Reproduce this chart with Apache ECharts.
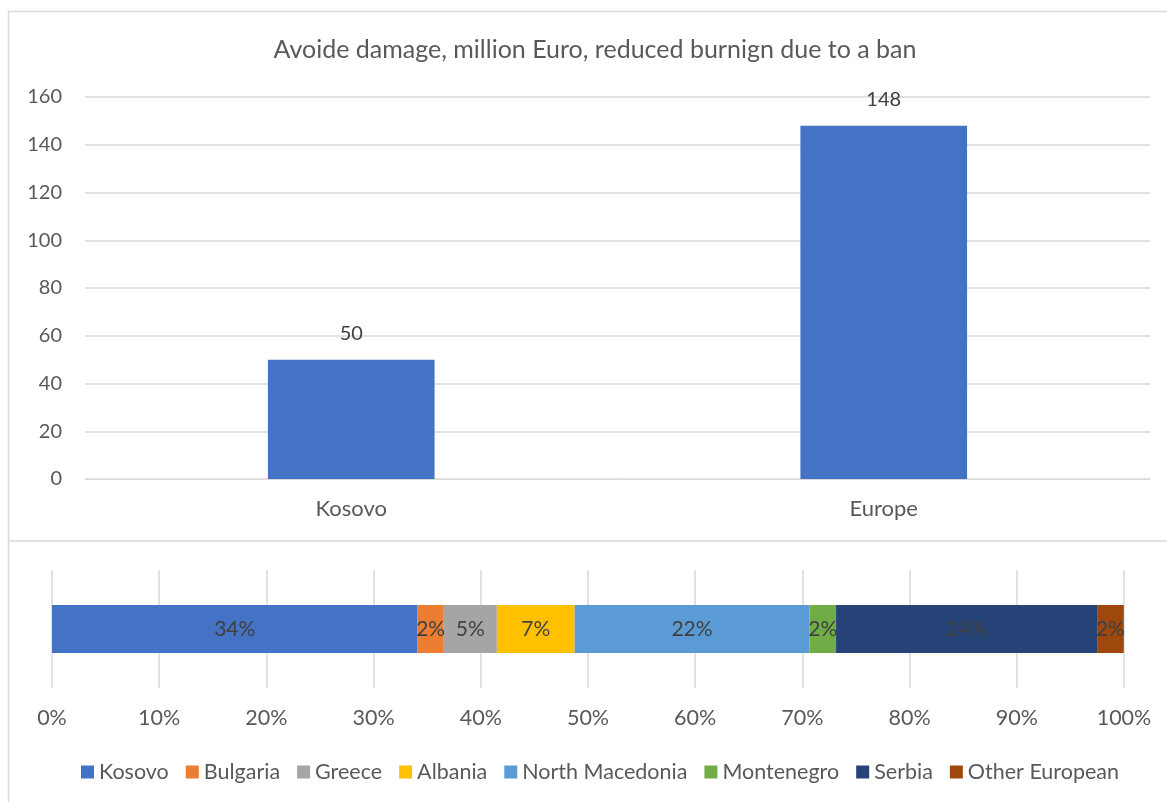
<!DOCTYPE html>
<html>
<head>
<meta charset="utf-8">
<script src="https://cdn.jsdelivr.net/npm/echarts@6/dist/echarts.min.js"></script>
<style>
  html, body { margin: 0; padding: 0; background: #fff; }
  #chart { width: 1167px; height: 802px; }
</style>
</head>
<body>
<div id="chart"></div>
<script>
// Avoided damage (million Euro)
const damageCategories = ['Kosovo', 'Europe'];
const damageValues = [50, 148];
const damageTicks = { min: 0, max: 160, interval: 20 };

// Share of avoided damage by country (%)
const shareCountries = ['Kosovo', 'Bulgaria', 'Greece', 'Albania', 'North Macedonia', 'Montenegro', 'Serbia', 'Other European'];
const shareValues = [34.1, 2.45, 4.95, 7.25, 21.9, 2.49, 24.35, 2.49];
const shareColors = ['#4472C4', '#ED7D31', '#A5A5A5', '#FFC000', '#5B9BD5', '#70AD47', '#264478', '#9E480E'];

const FONT = 'Lato';
const TEXT = '#595959';
const GRIDLINE = '#d9d9d9';

const chart = echarts.init(document.getElementById('chart'), null, { renderer: 'canvas' });

const shareSeries = shareCountries.map((name, i) => ({
  name: name,
  type: 'bar',
  stack: 'share',
  xAxisIndex: 1,
  yAxisIndex: 1,
  barWidth: 48,
  itemStyle: { color: shareColors[i] },
  label: {
    show: true,
    position: 'inside',
    color: '#404040',
    fontFamily: FONT,
    fontSize: 21,
    formatter: p => Math.round(p.value) + '%'
  },
  data: [shareValues[i]]
}));

chart.setOption({
  animation: false,
  textStyle: { fontFamily: FONT },
  title: {
    text: 'Avoide damage, million Euro, reduced burnign due to a ban',
    left: 590,
    top: 32,
    textAlign: 'center',
    textStyle: { fontFamily: FONT, fontSize: 25, fontWeight: 'normal', color: TEXT }
  },
  graphic: [
    { type: 'polyline', shape: { points: [[8.5, 810], [8.5, 11.5], [1180, 11.5]] }, style: { stroke: GRIDLINE, lineWidth: 1.5, fill: null } },
    { type: 'line', shape: { x1: 8, y1: 541, x2: 1180, y2: 541 }, style: { stroke: GRIDLINE, lineWidth: 1.5 } }
  ],
  legend: {
    data: shareCountries,
    bottom: 14,
    left: 76,
    itemWidth: 13,
    itemHeight: 13,
    itemGap: 17,
    icon: 'rect',
    textStyle: { fontFamily: FONT, fontSize: 21.5, color: TEXT }
  },
  grid: [
    { left: 85, right: 17, top: 97, height: 382 },
    { left: 52, right: 43, top: 570, height: 118 }
  ],
  xAxis: [
    {
      type: 'category',
      gridIndex: 0,
      data: damageCategories,
      axisLine: { lineStyle: { color: GRIDLINE } },
      axisTick: { show: false },
      axisLabel: { color: TEXT, fontFamily: FONT, fontSize: 22, margin: 19 }
    },
    {
      type: 'value',
      gridIndex: 1,
      min: 0,
      max: 100,
      interval: 10,
      axisLine: { show: false },
      axisTick: { show: false },
      splitLine: { lineStyle: { color: GRIDLINE, width: 1.5 } },
      axisLabel: { color: TEXT, fontFamily: FONT, fontSize: 21.5, margin: 19, formatter: v => v + '%' }
    }
  ],
  yAxis: [
    {
      type: 'value',
      gridIndex: 0,
      min: damageTicks.min,
      max: damageTicks.max,
      interval: damageTicks.interval,
      axisLine: { show: false },
      axisTick: { show: false },
      splitLine: { lineStyle: { color: GRIDLINE, width: 1.5 } },
      axisLabel: { color: TEXT, fontFamily: FONT, fontSize: 20, margin: 23 }
    },
    {
      type: 'category',
      gridIndex: 1,
      data: ['Share'],
      show: false
    }
  ],
  series: [
    {
      name: 'Avoided damage',
      type: 'bar',
      xAxisIndex: 0,
      yAxisIndex: 0,
      barWidth: '31.3%',
      itemStyle: { color: '#4472C4' },
      label: {
        show: true,
        position: 'top',
        distance: 16,
        color: '#404040',
        fontFamily: FONT,
        fontSize: 20
      },
      data: damageValues
    }
  ].concat(shareSeries)
});
</script>
</body>
</html>
